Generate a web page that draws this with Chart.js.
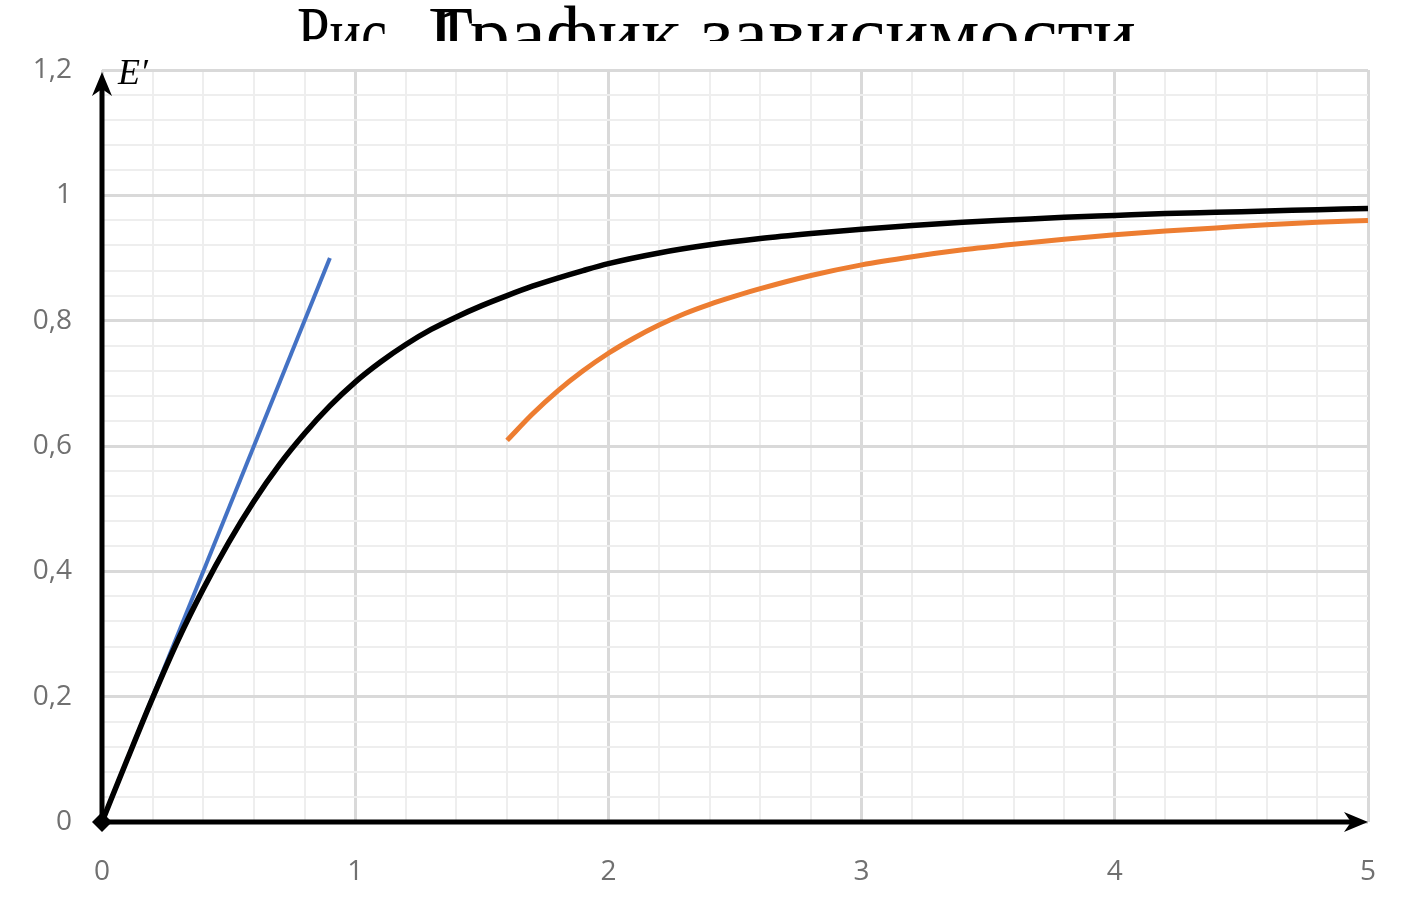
<!DOCTYPE html>
<html>
<head>
<meta charset="utf-8">
<script src="https://cdn.jsdelivr.net/npm/chart.js@4.4.1/dist/chart.umd.min.js"></script>
<style>
  html, body { margin: 0; padding: 0; background: #fff; }
  #wrap { width: 1422px; height: 918px; position: relative; }
</style>
</head>
<body>
<div id="wrap"><canvas id="chart"></canvas></div>
<script>
// data
const titleParts = ['Рис', '.1', 'График зависимости'];
const yAxisLabel = 'E′';
const xTickLabels = [0, 1, 2, 3, 4, 5];
const yTickLabels = [0, 0.2, 0.4, 0.6, 0.8, 1, 1.2];

const mainX = [0, 0.1, 0.2, 0.3, 0.4, 0.5, 0.6, 0.7, 0.8, 0.9, 1.0, 1.1, 1.2, 1.3, 1.4, 1.5, 1.6, 1.7, 1.8, 1.9, 2.0,
               2.2, 2.4, 2.6, 2.8, 3.0, 3.2, 3.4, 3.6, 3.8, 4.0, 4.2, 4.4, 4.6, 4.8, 5.0];
const mainY = [0, 0.100, 0.198, 0.290, 0.372, 0.446, 0.512, 0.570, 0.620, 0.664, 0.702, 0.734, 0.762, 0.786, 0.806, 0.824, 0.840, 0.855, 0.868, 0.880, 0.891,
               0.908, 0.921, 0.931, 0.939, 0.946, 0.952, 0.957, 0.961, 0.965, 0.968, 0.971, 0.973, 0.975, 0.977, 0.979];

const tangentX = [0, 0.9];
const tangentY = [0, 0.9];

const asymX = [1.6, 1.7, 1.8, 1.9, 2.0, 2.1, 2.2, 2.3, 2.4, 2.5, 2.6, 2.8, 3.0, 3.2, 3.4, 3.6, 3.8, 4.0, 4.2, 4.4, 4.6, 4.8, 5.0];
const asymY = [0.609, 0.651, 0.688, 0.720, 0.748, 0.772, 0.793, 0.811, 0.826, 0.839, 0.851, 0.872, 0.889, 0.902, 0.913, 0.922, 0.930, 0.937, 0.943, 0.948, 0.953, 0.957, 0.960];

const pairs = (xs, ys) => xs.map((x, i) => ({ x: x, y: ys[i] }));

(() => {
    const ctxEl = document.getElementById('chart');

    // arrow axes, E' label and the clipped caption on top
    const decor = {
        id: 'decor',
        beforeDatasetsDraw(chart) {
            const { ctx, scales: { x, y } } = chart;
            const x0 = x.getPixelForValue(0), y0 = y.getPixelForValue(0);
            const xEnd = x.getPixelForValue(5), yEnd = y.getPixelForValue(1.2);
            ctx.save();
            ctx.strokeStyle = '#000';
            ctx.fillStyle = '#000';
            ctx.lineWidth = 5;
            ctx.beginPath();
            ctx.moveTo(x0, y0);
            ctx.lineTo(x0, yEnd + 14);
            ctx.moveTo(x0, y0);
            ctx.lineTo(xEnd - 14, y0);
            ctx.stroke();
            // arrow heads
            ctx.beginPath();
            ctx.moveTo(x0, yEnd + 2);
            ctx.lineTo(x0 - 10, yEnd + 26);
            ctx.lineTo(x0, yEnd + 19);
            ctx.lineTo(x0 + 10, yEnd + 26);
            ctx.closePath();
            ctx.fill();
            ctx.beginPath();
            ctx.moveTo(xEnd, y0);
            ctx.lineTo(xEnd - 24, y0 - 10);
            ctx.lineTo(xEnd - 17, y0);
            ctx.lineTo(xEnd - 24, y0 + 10);
            ctx.closePath();
            ctx.fill();
            ctx.restore();
        },
        afterDraw(chart) {
            const { ctx } = chart;
            ctx.save();
            ctx.fillStyle = '#000';
            ctx.font = 'italic 36px "Liberation Serif"';
            ctx.textBaseline = 'alphabetic';
            ctx.fillText(yAxisLabel, 118, 84);

            // caption, cut off at the top like the original
            ctx.beginPath();
            ctx.rect(0, 0, chart.width, 41);
            ctx.clip();
            ctx.font = '76px "Liberation Serif"';
            const sx = 708 / ctx.measureText(titleParts[2]).width;
            const put = (txt, left, s) => {
                ctx.save();
                ctx.translate(left, 0);
                ctx.scale(s, 1);
                ctx.fillText(txt, 0, 59);
                ctx.restore();
            };
            put(titleParts[0], 297, 90 / ctx.measureText(titleParts[0]).width);
            put(titleParts[1], 412, sx);
            put(titleParts[2], 428, sx);
            ctx.restore();
        }
    };

    const config = {
        type: 'scatter',
        data: {
            datasets: [{
                data: pairs(mainX, mainY),
                showLine: true,
                clip: false,
                borderColor: '#000',
                backgroundColor: '#000',
                borderWidth: 5.5,
                cubicInterpolationMode: 'monotone',
                pointStyle: 'rectRot',
                pointRadius: mainX.map((v, i) => i === 0 ? 10 : 0),
                pointBorderWidth: 0,
                order: 1
            }, {
                data: pairs(tangentX, tangentY),
                showLine: true,
                borderColor: '#4472C4',
                borderWidth: 4,
                pointRadius: 0,
                order: 2
            }, {
                data: pairs(asymX, asymY),
                showLine: true,
                borderColor: '#ED7D31',
                borderWidth: 5,
                cubicInterpolationMode: 'monotone',
                pointRadius: 0,
                order: 3
            }]
        },
        options: {
            responsive: true,
            maintainAspectRatio: false,
            animation: false,
            layout: { padding: { top: 70, right: 54, left: 0, bottom: 0 } },
            plugins: { legend: { display: false }, tooltip: { enabled: false } },
            scales: {
                x: {
                    type: 'linear',
                    min: 0,
                    max: 5,
                    afterFit: (s) => { s.height = 96; },
                    border: { display: false },
                    grid: {
                        drawTicks: false,
                        color: (c) => Number.isInteger(Math.round(c.tick.value * 1000) / 1000) ? '#d9d9d9' : '#eeeeee',
                        lineWidth: (c) => Number.isInteger(Math.round(c.tick.value * 1000) / 1000) ? 3 : 2
                    },
                    ticks: {
                        stepSize: 0.2,
                        autoSkip: false,
                        maxRotation: 0,
                        padding: 33,
                        color: '#707070',
                        font: { family: '"Open Sans"', size: 28 },
                        callback: (v) => {
                            const r = Math.round(v * 1000) / 1000;
                            return xTickLabels.includes(r) ? String(r) : '';
                        }
                    }
                },
                y: {
                    type: 'linear',
                    min: 0,
                    max: 1.2,
                    afterFit: (s) => { s.width = 102; },
                    border: { display: false },
                    grid: {
                        drawTicks: false,
                        color: (c) => yTickLabels.includes(Math.round(c.tick.value * 1000) / 1000) ? '#d9d9d9' : '#eeeeee',
                        lineWidth: (c) => yTickLabels.includes(Math.round(c.tick.value * 1000) / 1000) ? 3 : 2
                    },
                    ticks: {
                        stepSize: 0.04,
                        autoSkip: false,
                        padding: 30,
                        color: '#707070',
                        font: { family: '"Open Sans"', size: 28 },
                        callback: (v) => {
                            const r = Math.round(v * 1000) / 1000;
                            return yTickLabels.includes(r) ? String(r).replace('.', ',') : '';
                        }
                    }
                }
            }
        },
        plugins: [decor]
    };
    const chart = new Chart(ctxEl, config);
})();
</script>
</body>
</html>
